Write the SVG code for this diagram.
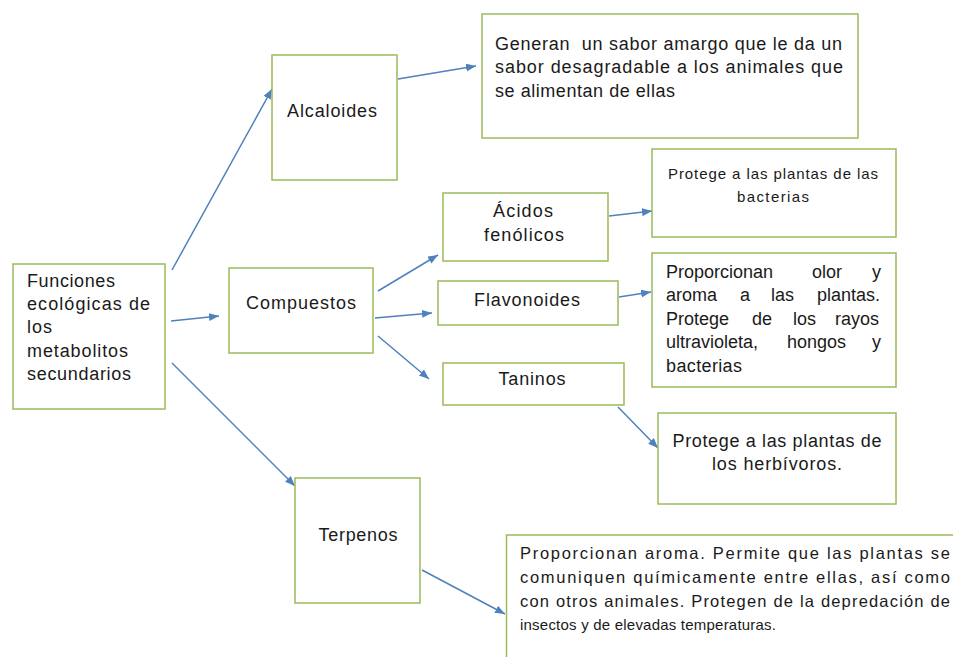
<svg xmlns="http://www.w3.org/2000/svg" width="953" height="657" viewBox="0 0 953 657">
<style>
.box{fill:#fff;stroke:#9bbb59;stroke-width:1.5}
.t{font-family:"Liberation Sans",Arial,sans-serif;font-size:18px;fill:#1a1a1a}
.s{font-family:"Liberation Sans",Arial,sans-serif;font-size:15px;fill:#1a1a1a}
.b{font-family:"Liberation Sans",Arial,sans-serif;font-size:16.5px;fill:#1a1a1a}
.b2{font-size:15px}
.m{text-anchor:middle}
.c line{stroke:#4f81bd;stroke-width:1.5;marker-end:url(#ah)}
</style>
<defs>
<marker id="ah" markerUnits="userSpaceOnUse" markerWidth="12" markerHeight="10" refX="10" refY="4" orient="auto">
<path d="M0,0 L10,4 L0,8 Z" fill="#4f81bd"/>
</marker>
</defs>
<rect width="953" height="657" fill="#fff"/>
<g id="connectors" class="c">
<line x1="172" y1="270" x2="272" y2="89"/>
<line x1="398" y1="79" x2="476" y2="66"/>
<line x1="171" y1="321" x2="219" y2="316"/>
<line x1="172" y1="363" x2="295" y2="486"/>
<line x1="378" y1="291" x2="438" y2="255"/>
<line x1="375" y1="318" x2="432" y2="313"/>
<line x1="378" y1="336" x2="429" y2="379"/>
<line x1="609" y1="216" x2="652" y2="211"/>
<line x1="619" y1="297" x2="651" y2="292"/>
<line x1="618" y1="407" x2="658" y2="448"/>
<line x1="422" y1="570" x2="505" y2="614"/>
</g>
<g id="funciones">
<rect class="box" x="13" y="264" width="152" height="145"/>
<text class="t" x="27" y="287" textLength="88" lengthAdjust="spacing">Funciones</text>
<text class="t" x="27" y="310" textLength="123" lengthAdjust="spacing">ecológicas de</text>
<text class="t" x="27" y="333" textLength="25" lengthAdjust="spacing">los</text>
<text class="t" x="27" y="357" textLength="101" lengthAdjust="spacing">metabolitos</text>
<text class="t" x="27" y="380" textLength="104" lengthAdjust="spacing">secundarios</text>
</g>
<g id="alcaloides">
<rect class="box" x="272" y="55" width="125" height="125"/>
<text class="t m" x="332" y="117" textLength="90" lengthAdjust="spacing">Alcaloides</text>
</g>
<g id="generan">
<rect class="box" x="482" y="14" width="376" height="124"/>
<text class="t" x="495" y="50" textLength="347" lengthAdjust="spacing" xml:space="preserve">Generan  un sabor amargo que le da un</text>
<text class="t" x="495" y="73" textLength="348" lengthAdjust="spacing">sabor desagradable a los animales que</text>
<text class="t" x="495" y="97" textLength="180" lengthAdjust="spacing">se alimentan de ellas</text>
</g>
<g id="compuestos">
<rect class="box" x="229" y="268" width="144" height="85"/>
<text class="t m" x="301" y="309" textLength="110" lengthAdjust="spacing">Compuestos</text>
</g>
<g id="acidos">
<rect class="box" x="443" y="193" width="165" height="68"/>
<text class="t m" x="523" y="217" textLength="60" lengthAdjust="spacing">Ácidos</text>
<text class="t m" x="524" y="241" textLength="80" lengthAdjust="spacing">fenólicos</text>
</g>
<g id="flavonoides">
<rect class="box" x="438" y="281" width="180" height="44"/>
<text class="t m" x="527" y="306" textLength="106" lengthAdjust="spacing">Flavonoides</text>
</g>
<g id="taninos">
<rect class="box" x="443" y="363" width="181" height="42"/>
<text class="t m" x="532" y="385" textLength="67" lengthAdjust="spacing">Taninos</text>
</g>
<g id="protege-bacterias">
<rect class="box" x="652" y="149" width="244" height="88"/>
<text class="s m" x="773" y="179" textLength="210" lengthAdjust="spacing">Protege a las plantas de las</text>
<text class="s m" x="773" y="202" textLength="72" lengthAdjust="spacing">bacterias</text>
</g>
<g id="proporcionan-olor">
<rect class="box" x="652" y="253" width="244" height="134"/>
<text class="t" y="278"><tspan x="666">Proporcionan</tspan><tspan x="812">olor</tspan><tspan x="872">y</tspan></text>
<text class="t" y="301"><tspan x="666">aroma</tspan><tspan x="740">a</tspan><tspan x="771">las</tspan><tspan x="817">plantas.</tspan></text>
<text class="t" y="325"><tspan x="666">Protege</tspan><tspan x="752">de</tspan><tspan x="793">los</tspan><tspan x="835">rayos</tspan></text>
<text class="t" y="348"><tspan x="666">ultravioleta,</tspan><tspan x="787">hongos</tspan><tspan x="872">y</tspan></text>
<text class="t" x="666" y="372" textLength="76" lengthAdjust="spacing">bacterias</text>
</g>
<g id="protege-herbivoros">
<rect class="box" x="658" y="413" width="238" height="91"/>
<text class="t m" x="777" y="447" textLength="209" lengthAdjust="spacing">Protege a las plantas de</text>
<text class="t m" x="777" y="470" textLength="130" lengthAdjust="spacing">los herbívoros.</text>
</g>
<g id="terpenos">
<rect class="box" x="295" y="478" width="125" height="125"/>
<text class="t m" x="358" y="541" textLength="79" lengthAdjust="spacing">Terpenos</text>
</g>
<g id="proporcionan-aroma">
<rect class="box" x="506.5" y="535" width="470" height="140"/>
<text class="b" x="520" y="559" textLength="430" lengthAdjust="spacing">Proporcionan aroma. Permite que las plantas se</text>
<text class="b" x="520" y="583" textLength="430" lengthAdjust="spacing">comuniquen químicamente entre ellas, así como</text>
<text class="b" x="520" y="607" textLength="430" lengthAdjust="spacing">con otros animales. Protegen de la depredación de</text>
<text class="b b2" x="520" y="630" textLength="256" lengthAdjust="spacing">insectos y de elevadas temperaturas.</text>
</g>
</svg>
